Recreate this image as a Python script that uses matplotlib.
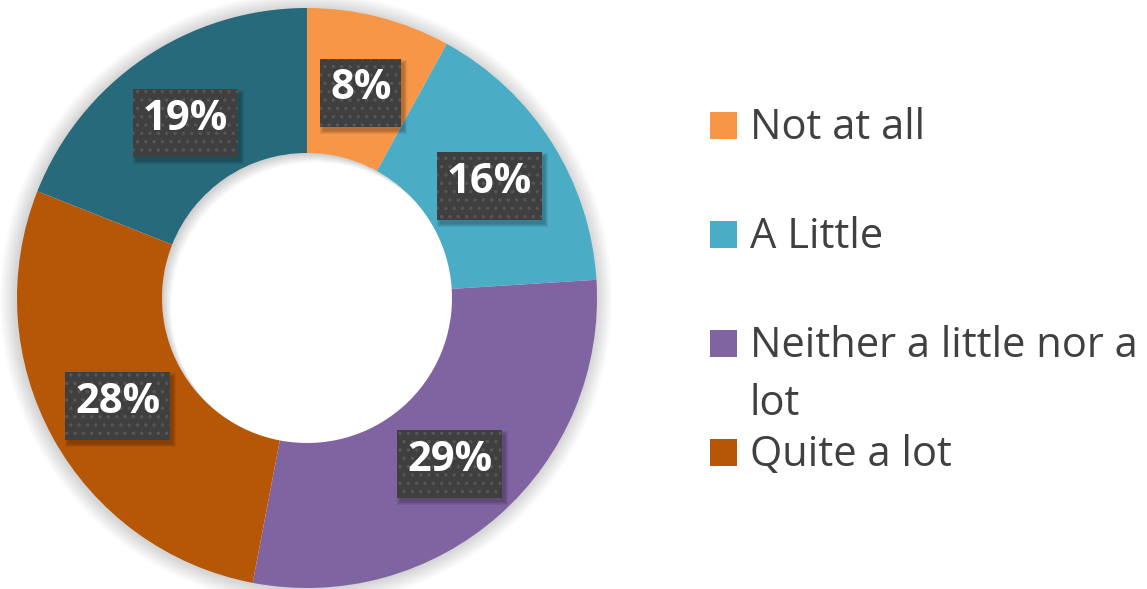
import numpy as np
import matplotlib
matplotlib.use('Agg')
import matplotlib.pyplot as plt
from matplotlib.patches import Circle, Rectangle, Wedge

# data
categories = ['Not at all', 'A Little', 'Neither a little nor a\nlot', 'Quite a lot', 'A lot']
values = [8, 16, 29, 28, 19]
colors = ['#F79646', '#4BACC6', '#8064A2', '#B65708', '#276A7C']
legend_shown = 4  # last entry is cut off in the original

plt.rcParams['font.family'] = ['Open Sans', 'DejaVu Sans']
plt.rcParams['hatch.linewidth'] = 1.3
text_col = '#404040'

W, H = 1147, 589
fig = plt.figure(figsize=(W / 100, H / 100), dpi=100)
fig.patch.set_facecolor('white')

cx, cy, R = 307, 298, 290
ax = fig.add_axes([(cx - R) / W, (H - cy - R) / H, 2 * R / W, 2 * R / H])

hole = 0.5
# soft shadow round the outside of the ring
for i in range(14):
    r = 1.0 + 0.004 * (i + 1)
    ax.add_patch(Wedge((-0.003, -0.003), r, 0, 360, width=r - 0.98, facecolor='black',
                       alpha=0.012, lw=0, clip_on=False, zorder=0))
wedges, _ = ax.pie(values, colors=colors, startangle=90, counterclock=False,
                   radius=1.0, wedgeprops=dict(width=1 - hole, linewidth=0))
for w in wedges:
    w.set_clip_on(False)
    w.set_zorder(2)
# inset shadow in the hole, from the upper left
hole_clip = Circle((0, 0), hole, transform=ax.transData)
for i in range(10):
    d = 0.004 * (i + 1)
    p = Wedge((d * 0.8, -d * 0.8), 3, 0, 360, width=3 - hole, facecolor='black',
              alpha=0.02, lw=0, zorder=3)
    ax.add_patch(p)
    p.set_clip_path(hole_clip)

ax.set_xlim(-1, 1)
ax.set_ylim(-1, 1)
ax.set_aspect('equal')
ax.axis('off')

# value labels
total = sum(values)
start = 90.0
labels = []
for v in values:
    mid = np.deg2rad(start - 360.0 * v / total / 2)
    start -= 360.0 * v / total
    x, y = 0.745 * np.cos(mid), 0.745 * np.sin(mid)
    lab = '%d%%' % round(100.0 * v / total)
    t = ax.text(x, y, lab, ha='center', va='center', fontsize=30, fontweight='bold',
                color='white', zorder=6)
    labels.append(t)

fig.canvas.draw()
rend = fig.canvas.get_renderer()
padx, pady = 10, 14
for t in labels:
    bb = t.get_window_extent(rend)
    bcx, bcy = (bb.x0 + bb.x1) / 2, (bb.y0 + bb.y1) / 2 - 4
    bw, bh = bb.width + 2 * padx, 68
    x0, y0 = bcx - bw / 2, bcy - bh / 2
    # soft box shadow
    for k in range(4):
        g = 4 - k
        fig.patches.append(Rectangle((x0 + 2 - g + 2, y0 - 3 - g), bw + 2 * g - 2, bh + 2 * g - 2,
                                     facecolor='black', alpha=0.07, lw=0,
                                     transform=None, figure=fig, zorder=4))
    fig.patches.append(Rectangle((x0, y0), bw, bh, facecolor='#3f3f3f', edgecolor='#555555',
                                 hatch='..', lw=0, transform=None, figure=fig, zorder=5))
    t.remove()
    fig.text((bb.x0 + bb.x1) / 2 / W, (bb.y0 + bb.y1) / 2 / H, t.get_text(),
             ha='center', va='center', fontsize=30, fontweight='bold',
             color='white', zorder=7)

# legend, laid out by hand like the original
sq = 27
rows_y = [139, 248, 357, 466]  # square bottom / baseline, pixels from top
for i in range(legend_shown):
    yb = H - rows_y[i]
    fig.patches.append(Rectangle((710 / W, yb / H), sq / W, sq / H,
                                 facecolor=colors[i], lw=0,
                                 transform=fig.transFigure, figure=fig))
    lines = categories[i].split('\n')
    for j, line in enumerate(lines):
        fig.text(750 / W, (yb - 58 * j) / H, line, fontsize=30, color=text_col,
                 ha='left', va='baseline')

fig.savefig('out.png', dpi=100, facecolor='white')
